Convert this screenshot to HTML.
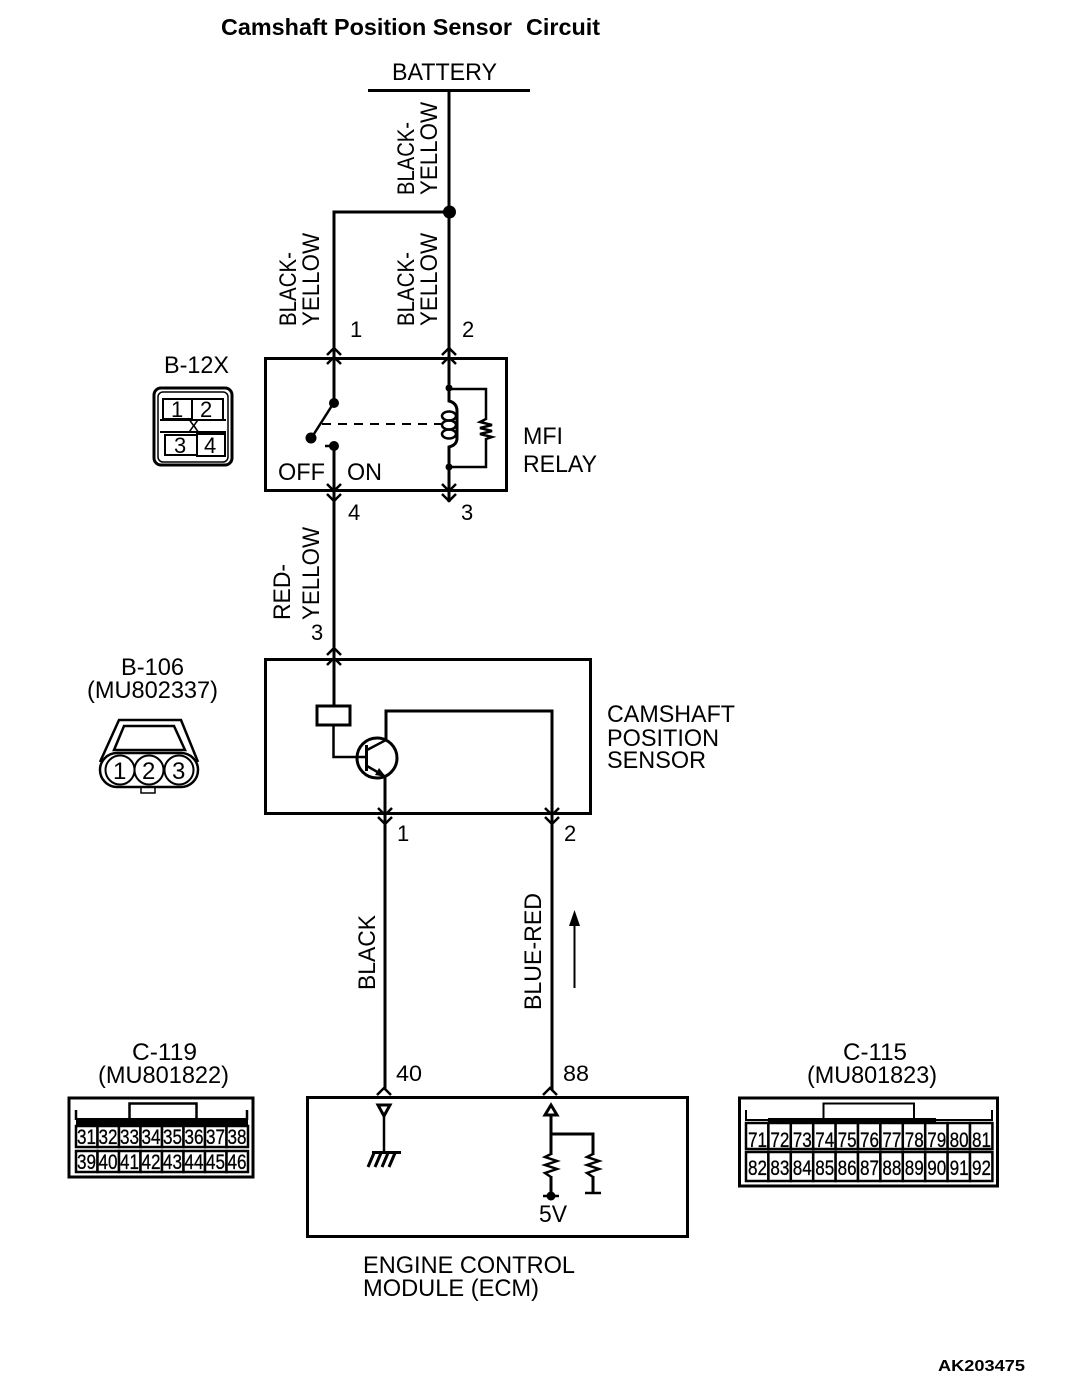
<!DOCTYPE html>
<html><head><meta charset="utf-8"><style>
html,body{margin:0;padding:0;background:#fff}
svg{display:block}
text{font-family:"Liberation Sans",sans-serif;font-size:24px;fill:#000}
.p{font-size:22px}
.c{font-size:21px;stroke:#000;stroke-width:.3px}
.w{fill:none;stroke:#000;stroke-width:3}
.t{fill:none;stroke:#000;stroke-width:2.500}
</style></head><body>
<svg width="1072" height="1388" viewBox="0 0 1072 1388" xmlns="http://www.w3.org/2000/svg">
<text x="221" y="35" style="font-weight:bold;font-size:23px" textLength="291" lengthAdjust="spacingAndGlyphs">Camshaft Position Sensor</text>
<text x="526" y="35" style="font-weight:bold;font-size:23px" textLength="74" lengthAdjust="spacingAndGlyphs">Circuit</text>
<text x="392" y="80" textLength="105" lengthAdjust="spacingAndGlyphs">BATTERY</text>
<path class="w" d="M368 90.500H530"/>
<path class="w" d="M449 90V358M334 358V212H449"/>
<circle cx="449.500" cy="212" r="6.500"/>
<!-- rotated wire labels -->
<text transform="translate(414,195) rotate(-90)" textLength="73" lengthAdjust="spacingAndGlyphs">BLACK-</text>
<text transform="translate(437,195) rotate(-90)" textLength="93" lengthAdjust="spacingAndGlyphs">YELLOW</text>
<text transform="translate(296,326) rotate(-90)" textLength="74" lengthAdjust="spacingAndGlyphs">BLACK-</text>
<text transform="translate(319,326) rotate(-90)" textLength="93" lengthAdjust="spacingAndGlyphs">YELLOW</text>
<text transform="translate(414,326) rotate(-90)" textLength="74" lengthAdjust="spacingAndGlyphs">BLACK-</text>
<text transform="translate(437,326) rotate(-90)" textLength="93" lengthAdjust="spacingAndGlyphs">YELLOW</text>
<text class="p" x="350" y="337">1</text>
<text class="p" x="462" y="337">2</text>
<!-- relay -->
<rect class="w" x="265.500" y="358.500" width="241" height="132"/>
<path class="w" d="M334 348V403M449 348V388"/>
<path class="t" d="M327 355L334 348L341 355M327 364L334 357L341 364M442 355L449 348L456 355M442 364L449 357L456 364"/>
<circle cx="334" cy="403" r="5"/><circle cx="311" cy="438" r="5.500"/><circle cx="334" cy="446" r="5"/>
<path class="t" d="M333 404L312 437M325 446H334"/>
<path class="w" d="M334 446V706M449 467V502"/>
<path stroke="#000" stroke-width="2" stroke-dasharray="9 7" fill="none" d="M322 424H441"/>
<path class="w" d="M449 388V401Q457 403 457 411V438Q457 445 449 447V467"/>
<g fill="none" stroke="#000" stroke-width="2.500"><ellipse cx="449" cy="416" rx="7" ry="4.500"/><ellipse cx="449" cy="425" rx="7" ry="4.500"/><ellipse cx="449" cy="434" rx="7" ry="4.500"/></g>
<path class="w" d="M449 389H486V467H449" style="stroke-width:2.500"/>
<path fill="#fff" stroke="none" d="M478 420h16v18h-16z"/>
<path class="t" d="M486 419L480 422L492 425L480 428L492 431L480 434L492 437L486 439"/>
<circle cx="449" cy="388" r="3.500"/><circle cx="449" cy="467" r="3.500"/>
<path class="t" d="M327 484L334 491L341 484M327 494L334 501L341 494M442 484L449 491L456 484M442 494L449 501L456 494"/>
<text x="278" y="480" textLength="47" lengthAdjust="spacingAndGlyphs">OFF</text>
<text x="347" y="480" textLength="35" lengthAdjust="spacingAndGlyphs">ON</text>
<text x="523" y="444" textLength="40" lengthAdjust="spacingAndGlyphs">MFI</text>
<text x="523" y="472" textLength="74" lengthAdjust="spacingAndGlyphs">RELAY</text>
<text class="p" x="348" y="520">4</text>
<text class="p" x="461" y="520">3</text>
<!-- B-12X -->
<text x="164" y="373" textLength="65" lengthAdjust="spacingAndGlyphs">B-12X</text>
<rect x="154" y="388" width="78" height="77" rx="7" fill="none" stroke="#000" stroke-width="3"/>
<rect x="158" y="392" width="70" height="70" rx="5" fill="none" stroke="#000" stroke-width="1.500"/>
<g fill="none" stroke="#000" stroke-width="2">
<rect x="163" y="399" width="29" height="20"/><rect x="192" y="399" width="31" height="21"/>
<rect x="165" y="435" width="32" height="20"/><rect x="197" y="434" width="28" height="22"/>
<path d="M160 420H226M160 432H226"/></g>
<text class="p" x="171" y="417">1</text>
<text class="p" x="200" y="417">2</text>
<text class="p" x="174" y="453">3</text>
<text class="p" x="204" y="453">4</text>
<text x="187" y="433" style="font-size:20px">X</text>
<!-- red yellow -->
<text transform="translate(290,620) rotate(-90)" textLength="56" lengthAdjust="spacingAndGlyphs">RED-</text>
<text transform="translate(319,620) rotate(-90)" textLength="93" lengthAdjust="spacingAndGlyphs">YELLOW</text>
<text class="p" x="311" y="640">3</text>
<!-- sensor -->
<rect class="w" x="265.500" y="659.500" width="325" height="154"/>
<path class="t" d="M327 655L334 648L341 655M327 665L334 658L341 665"/>
<rect class="w" x="317" y="706" width="33" height="19" fill="#fff"/>
<path class="w" d="M333.500 725V757H366" style="stroke-width:2.500"/>
<circle class="w" cx="377" cy="758" r="20"/>
<path class="w" d="M366.500 745V771"/>
<path class="t" d="M367 750L386 740M367 766L386 777"/>
<path d="M386 777L375 775L379 768Z"/>
<path class="w" d="M386 739V711H552V1090"/>
<path class="w" d="M385 777V1090"/>
<path class="t" d="M378 808L385 815L392 808M378 817L385 824L392 817M545 808L552 815L559 808M545 817L552 824L559 817"/>
<text x="607" y="722" textLength="128" lengthAdjust="spacingAndGlyphs">CAMSHAFT</text>
<text x="607" y="746" textLength="112" lengthAdjust="spacingAndGlyphs">POSITION</text>
<text x="607" y="768" textLength="99" lengthAdjust="spacingAndGlyphs">SENSOR</text>
<text class="p" x="397" y="841">1</text>
<text class="p" x="564" y="841">2</text>
<!-- B-106 -->
<text x="121" y="675" textLength="63" lengthAdjust="spacingAndGlyphs">B-106</text>
<text x="87" y="698" textLength="131" lengthAdjust="spacingAndGlyphs">(MU802337)</text>
<path class="t" d="M100 762L119 720H181L198 762"/>
<path class="t" d="M114 750L124 726H174L185 750Z"/>
<rect x="100" y="753" width="98" height="34" rx="17" fill="#fff" stroke="#000" stroke-width="2.500"/>
<rect x="141" y="787" width="14" height="6" fill="none" stroke="#000" stroke-width="1.500"/>
<circle cx="120" cy="770" r="14.500" fill="#fff" stroke="#000" stroke-width="2"/>
<circle cx="149" cy="770" r="14.500" fill="#fff" stroke="#000" stroke-width="2"/>
<circle cx="179" cy="770" r="14.500" fill="#fff" stroke="#000" stroke-width="2"/>
<text x="113" y="779">1</text>
<text x="142" y="779">2</text>
<text x="172" y="779">3</text>
<!-- mid labels -->
<text transform="translate(375,990) rotate(-90)" textLength="75" lengthAdjust="spacingAndGlyphs">BLACK</text>
<text transform="translate(541,1010) rotate(-90)" textLength="117" lengthAdjust="spacingAndGlyphs">BLUE-RED</text>
<path class="t" d="M574.500 988V916" style="stroke-width:2"/>
<path d="M574.500 910L569 926H580Z"/>
<!-- ECM -->
<text class="p" x="396" y="1081" textLength="26" lengthAdjust="spacingAndGlyphs">40</text>
<text class="p" x="563" y="1081" textLength="26" lengthAdjust="spacingAndGlyphs">88</text>
<path class="t" d="M377 1095L384 1088L391 1095M543 1095L550 1088L557 1095"/>
<rect class="w" x="307.500" y="1097.500" width="380" height="139"/>
<path fill="none" stroke="#000" stroke-width="3" d="M378 1105H390L384 1116Z"/>
<path class="t" d="M384 1116V1152"/>
<path d="M372 1151H401V1154H372Z"/>
<path class="t" d="M374 1153L368 1167M381 1153L375 1167M388 1153L382 1167M395 1153L389 1167" style="stroke-width:3"/>
<path fill="none" stroke="#000" stroke-width="3" d="M545 1115H557L551 1105Z"/>
<path class="w" d="M551 1116V1155M551 1176V1196M551 1134H593V1155M593 1176V1193"/>
<path class="t" d="M551 1154L545 1157L557 1161L545 1165L557 1169L545 1173L551 1177M593 1154L587 1157L599 1161L587 1165L599 1169L587 1173L593 1177"/>
<circle cx="551" cy="1196" r="4.500"/>
<path class="t" d="M543 1196H559M585 1193H601"/>
<text x="539" y="1222" textLength="28" lengthAdjust="spacingAndGlyphs">5V</text>
<text x="363" y="1273" textLength="212" lengthAdjust="spacingAndGlyphs">ENGINE CONTROL</text>
<text x="363" y="1296" textLength="176" lengthAdjust="spacingAndGlyphs">MODULE (ECM)</text>
<!-- C-119 -->
<text x="132" y="1060" textLength="65" lengthAdjust="spacingAndGlyphs">C-119</text>
<text x="98" y="1083" textLength="131" lengthAdjust="spacingAndGlyphs">(MU801822)</text>
<rect class="w" x="69" y="1098" width="184" height="79"/>
<path class="t" d="M129.500 1120V1103.500H196.500V1120M76 1120V1110M247 1120V1110"/>
<path d="M76 1118H248V1125H76Z"/>
<g fill="#fff" stroke="#000" stroke-width="2.500">
<rect x="76" y="1126" width="21.500" height="21"/><rect x="97.500" y="1126" width="21.500" height="21"/><rect x="119" y="1126" width="21.500" height="21"/><rect x="140.500" y="1126" width="21.500" height="21"/><rect x="162" y="1126" width="21.500" height="21"/><rect x="183.500" y="1126" width="21.500" height="21"/><rect x="205" y="1126" width="21.500" height="21"/><rect x="226.500" y="1126" width="21.500" height="21"/>
<rect x="76" y="1151" width="21.500" height="21"/><rect x="97.500" y="1151" width="21.500" height="21"/><rect x="119" y="1151" width="21.500" height="21"/><rect x="140.500" y="1151" width="21.500" height="21"/><rect x="162" y="1151" width="21.500" height="21"/><rect x="183.500" y="1151" width="21.500" height="21"/><rect x="205" y="1151" width="21.500" height="21"/><rect x="226.500" y="1151" width="21.500" height="21"/>
</g>
<g class="cells">
<text class="c" x="77" y="1144" textLength="19" lengthAdjust="spacingAndGlyphs">31</text><text class="c" x="98.500" y="1144" textLength="19" lengthAdjust="spacingAndGlyphs">32</text><text class="c" x="120" y="1144" textLength="19" lengthAdjust="spacingAndGlyphs">33</text><text class="c" x="141.500" y="1144" textLength="19" lengthAdjust="spacingAndGlyphs">34</text><text class="c" x="163" y="1144" textLength="19" lengthAdjust="spacingAndGlyphs">35</text><text class="c" x="184.500" y="1144" textLength="19" lengthAdjust="spacingAndGlyphs">36</text><text class="c" x="206" y="1144" textLength="19" lengthAdjust="spacingAndGlyphs">37</text><text class="c" x="227.500" y="1144" textLength="19" lengthAdjust="spacingAndGlyphs">38</text>
<text class="c" x="77" y="1169" textLength="19" lengthAdjust="spacingAndGlyphs">39</text><text class="c" x="98.500" y="1169" textLength="19" lengthAdjust="spacingAndGlyphs">40</text><text class="c" x="120" y="1169" textLength="19" lengthAdjust="spacingAndGlyphs">41</text><text class="c" x="141.500" y="1169" textLength="19" lengthAdjust="spacingAndGlyphs">42</text><text class="c" x="163" y="1169" textLength="19" lengthAdjust="spacingAndGlyphs">43</text><text class="c" x="184.500" y="1169" textLength="19" lengthAdjust="spacingAndGlyphs">44</text><text class="c" x="206" y="1169" textLength="19" lengthAdjust="spacingAndGlyphs">45</text><text class="c" x="227.500" y="1169" textLength="19" lengthAdjust="spacingAndGlyphs">46</text>
</g>
<!-- C-115 -->
<text x="843" y="1060" textLength="64" lengthAdjust="spacingAndGlyphs">C-115</text>
<text x="807" y="1083" textLength="130" lengthAdjust="spacingAndGlyphs">(MU801823)</text>
<rect class="w" x="739.500" y="1098" width="258" height="88"/>
<path class="t" d="M823.500 1121V1103.500H914V1121M746 1121V1110M992 1121V1110M746 1120H768M936 1120H992" style="stroke-width:2"/>
<path d="M768 1118H936V1125H768Z"/>
<g fill="#fff" stroke="#000" stroke-width="2.500">
<rect x="746" y="1123" width="22.400" height="26"/><rect x="768.400" y="1123" width="22.400" height="26"/><rect x="790.800" y="1123" width="22.400" height="26"/><rect x="813.200" y="1123" width="22.400" height="26"/><rect x="835.600" y="1123" width="22.400" height="26"/><rect x="858" y="1123" width="22.400" height="26"/><rect x="880.400" y="1123" width="22.400" height="26"/><rect x="902.800" y="1123" width="22.400" height="26"/><rect x="925.200" y="1123" width="22.400" height="26"/><rect x="947.600" y="1123" width="22.400" height="26"/><rect x="970" y="1123" width="22.400" height="26"/>
<rect x="746" y="1152" width="22.400" height="29"/><rect x="768.400" y="1152" width="22.400" height="29"/><rect x="790.800" y="1152" width="22.400" height="29"/><rect x="813.200" y="1152" width="22.400" height="29"/><rect x="835.600" y="1152" width="22.400" height="29"/><rect x="858" y="1152" width="22.400" height="29"/><rect x="880.400" y="1152" width="22.400" height="29"/><rect x="902.800" y="1152" width="22.400" height="29"/><rect x="925.200" y="1152" width="22.400" height="29"/><rect x="947.600" y="1152" width="22.400" height="29"/><rect x="970" y="1152" width="22.400" height="29"/>
</g>
<text class="c" x="748" y="1147" textLength="19" lengthAdjust="spacingAndGlyphs">71</text><text class="c" x="770.400" y="1147" textLength="19" lengthAdjust="spacingAndGlyphs">72</text><text class="c" x="792.800" y="1147" textLength="19" lengthAdjust="spacingAndGlyphs">73</text><text class="c" x="815.200" y="1147" textLength="19" lengthAdjust="spacingAndGlyphs">74</text><text class="c" x="837.600" y="1147" textLength="19" lengthAdjust="spacingAndGlyphs">75</text><text class="c" x="860" y="1147" textLength="19" lengthAdjust="spacingAndGlyphs">76</text><text class="c" x="882.400" y="1147" textLength="19" lengthAdjust="spacingAndGlyphs">77</text><text class="c" x="904.800" y="1147" textLength="19" lengthAdjust="spacingAndGlyphs">78</text><text class="c" x="927.200" y="1147" textLength="19" lengthAdjust="spacingAndGlyphs">79</text><text class="c" x="949.600" y="1147" textLength="19" lengthAdjust="spacingAndGlyphs">80</text><text class="c" x="972" y="1147" textLength="19" lengthAdjust="spacingAndGlyphs">81</text>
<text class="c" x="748" y="1175" textLength="19" lengthAdjust="spacingAndGlyphs">82</text><text class="c" x="770.400" y="1175" textLength="19" lengthAdjust="spacingAndGlyphs">83</text><text class="c" x="792.800" y="1175" textLength="19" lengthAdjust="spacingAndGlyphs">84</text><text class="c" x="815.200" y="1175" textLength="19" lengthAdjust="spacingAndGlyphs">85</text><text class="c" x="837.600" y="1175" textLength="19" lengthAdjust="spacingAndGlyphs">86</text><text class="c" x="860" y="1175" textLength="19" lengthAdjust="spacingAndGlyphs">87</text><text class="c" x="882.400" y="1175" textLength="19" lengthAdjust="spacingAndGlyphs">88</text><text class="c" x="904.800" y="1175" textLength="19" lengthAdjust="spacingAndGlyphs">89</text><text class="c" x="927.200" y="1175" textLength="19" lengthAdjust="spacingAndGlyphs">90</text><text class="c" x="949.600" y="1175" textLength="19" lengthAdjust="spacingAndGlyphs">91</text><text class="c" x="972" y="1175" textLength="19" lengthAdjust="spacingAndGlyphs">92</text>
<text x="938" y="1371" style="font-weight:bold;font-size:16px" textLength="87" lengthAdjust="spacingAndGlyphs">AK203475</text>
</svg>
</body></html>
